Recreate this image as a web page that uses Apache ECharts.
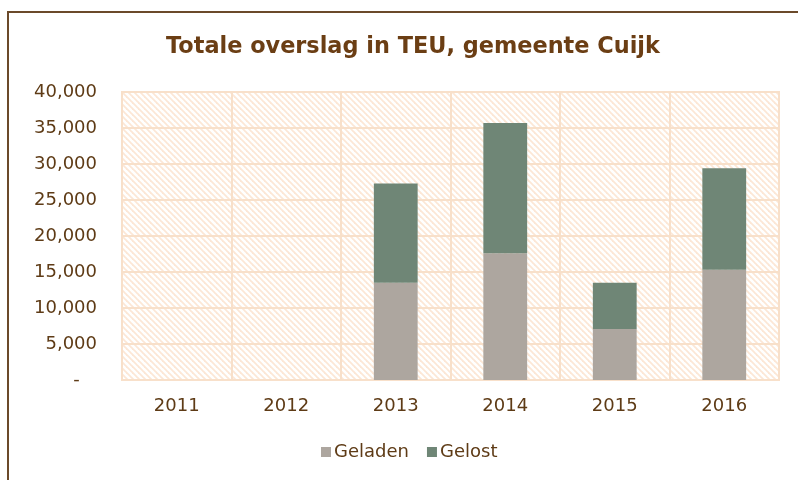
<!DOCTYPE html>
<html>
<head>
<meta charset="utf-8">
<script src="https://cdn.jsdelivr.net/npm/echarts@6/dist/echarts.min.js"></script>
<style>
  html, body { margin: 0; padding: 0; background: #fff; }
  #chart { width: 798px; height: 480px; }
</style>
</head>
<body>
<div id="chart"></div>
<script>
// jaren en waarden (TEU)
var years = ['2011', '2012', '2013', '2014', '2015', '2016'];
var geladen = [0, 0, 13500, 17600, 7100, 15300];
var gelost = [0, 0, 13800, 18100, 6400, 14100];
var seriesNames = ['Geladen', 'Gelost'];

// arcering van het plotvlak
function hatch() {
    var size = 6;
    var c = document.createElement('canvas');
    c.width = size;
    c.height = size;
    var ctx = c.getContext('2d');
    ctx.fillStyle = '#ffffff';
    ctx.fillRect(0, 0, size, size);
    ctx.strokeStyle = '#FCE7D6';
    ctx.lineWidth = 1.8;
    [-size, 0, size].forEach(function (o) {
        ctx.beginPath();
        ctx.moveTo(o - 1, -1);
        ctx.lineTo(o + size + 1, size + 1);
        ctx.stroke();
    });
    return c;
}

var brown = '#6B3E14';
var labelColor = '#5E3B16';
var lineColor = '#F8E0CA';

var chart = echarts.init(document.getElementById('chart'));
chart.setOption({
    animation: false,
    textStyle: { fontFamily: 'DejaVu Sans' },
    title: {
        text: 'Totale overslag in TEU, gemeente Cuijk',
        left: 161,
        top: 31,
        textStyle: { color: brown, fontSize: 22.4, fontWeight: 'bold', fontFamily: 'DejaVu Sans' }
    },
    graphic: [{
        type: 'rect',
        shape: { x: 8, y: 12, width: 820, height: 500 },
        style: { fill: 'none', stroke: '#6B4A2A', lineWidth: 2 },
        silent: true
    }],
    legend: {
        bottom: 14,
        left: 316,
        itemWidth: 10,
        itemHeight: 10,
        itemGap: 18,
        icon: 'rect',
        textStyle: { color: labelColor, fontSize: 18, padding: [0, 0, 0, -2] },
        data: seriesNames
    },
    grid: {
        left: 122,
        right: 19,
        top: 92,
        bottom: 100,
        show: true,
        backgroundColor: { image: hatch(), repeat: 'repeat' },
        borderColor: lineColor,
        borderWidth: 2
    },
    xAxis: {
        type: 'category',
        data: years,
        axisLine: { lineStyle: { color: lineColor, width: 2 } },
        axisTick: { show: false },
        splitLine: { show: true, lineStyle: { color: lineColor, width: 2 } },
        axisLabel: { color: labelColor, fontSize: 18, margin: 17 }
    },
    yAxis: {
        type: 'value',
        min: 0,
        max: 40000,
        interval: 5000,
        axisLine: { show: false },
        axisTick: { show: false },
        splitLine: { lineStyle: { color: lineColor, width: 2 } },
        axisLabel: {
            color: labelColor,
            fontSize: 18,
            margin: 25,
            padding: [8, 0, 0, 0],
            formatter: function (v) {
                return v === 0 ? '-   ' : v.toLocaleString('en-US');
            }
        }
    },
    series: [{
        name: seriesNames[0],
        type: 'bar',
        stack: 'teu',
        barWidth: '40%',
        itemStyle: { color: '#ADA69F' },
        data: geladen
    }, {
        name: seriesNames[1],
        type: 'bar',
        stack: 'teu',
        barWidth: '40%',
        itemStyle: { color: '#6F8676' },
        data: gelost
    }]
});
</script>
</body>
</html>
